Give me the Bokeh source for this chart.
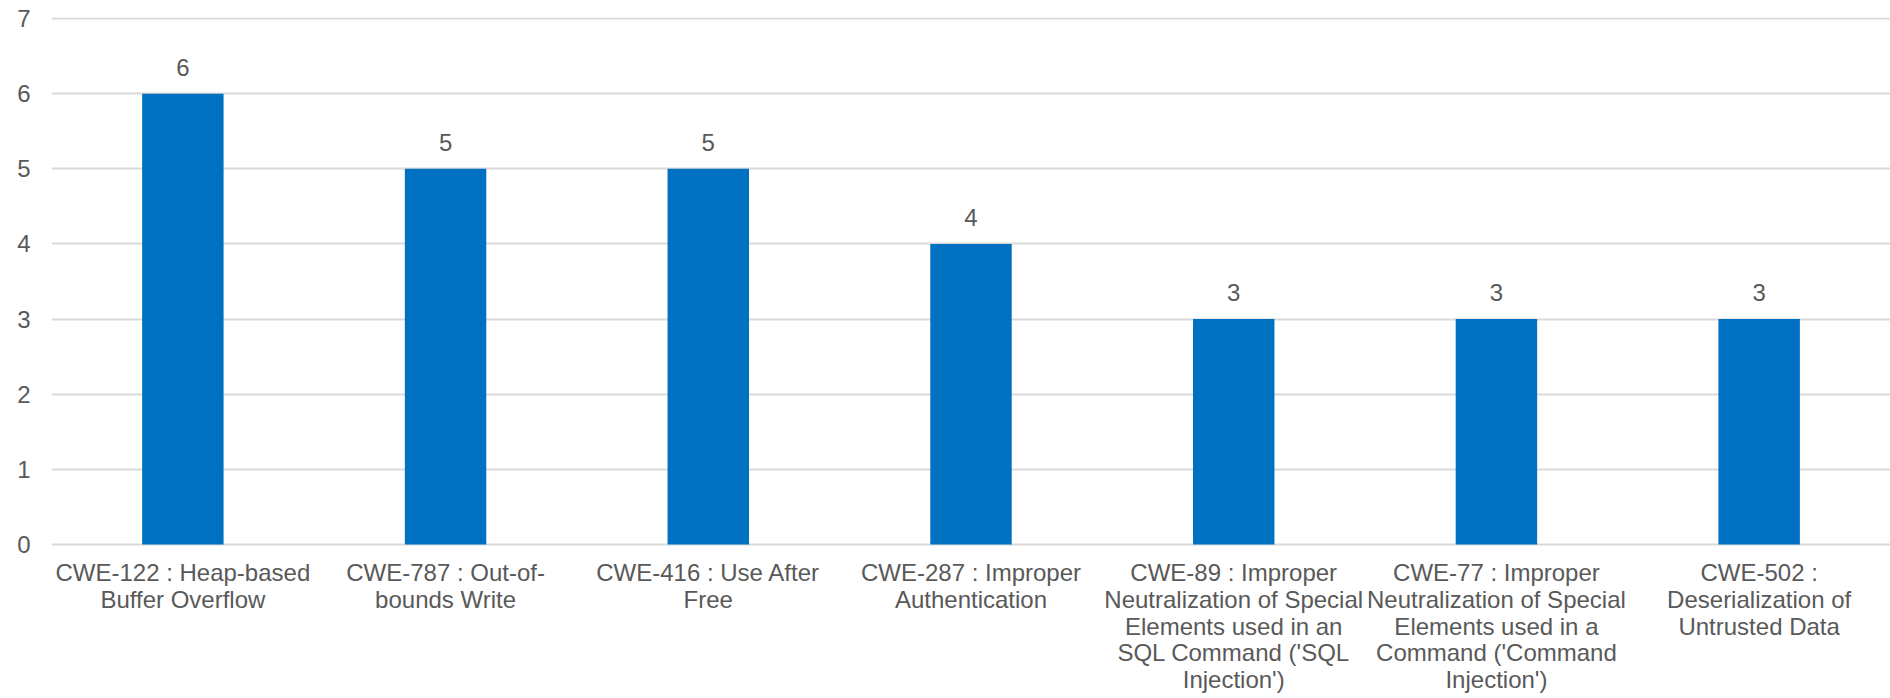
from bokeh.plotting import figure
from bokeh.layouts import column
from bokeh.models import ColumnDataSource, LabelSet, SingleIntervalTicker
from bokeh.core.properties import value
from bokeh.embed import file_html
from bokeh.resources import INLINE

# Weakness categories (wrapped into lines) and their counts
categories = [
    "CWE-122 : Heap-based\nBuffer Overflow",
    "CWE-787 : Out-of-\nbounds Write",
    "CWE-416 : Use After\nFree",
    "CWE-287 : Improper\nAuthentication",
    "CWE-89 : Improper\nNeutralization of Special\nElements used in an\nSQL Command ('SQL\nInjection')",
    "CWE-77 : Improper\nNeutralization of Special\nElements used in a\nCommand ('Command\nInjection')",
    "CWE-502 :\nDeserialization of\nUntrusted Data",
]
counts = [6, 5, 5, 4, 3, 3, 3]

FONT = "Liberation Sans"
FONT_SIZE = "24px"
TEXT_COLOR = "#595959"
GRID_COLOR = "#d9d9d9"
BAR_COLOR = "#0070C0"

W = 1890
CHART_H = 560
LABEL_H = 138
FIRST_BASELINE = 12
LINE_STEP = 26.8

source = ColumnDataSource(dict(cat=categories, n=counts, lbl=[str(v) for v in counts]))

# --- bar chart -------------------------------------------------------------
p = figure(
    x_range=categories,
    y_range=(-0.027, 7.014),
    width=W,
    height=CHART_H,
    output_backend="svg",
    toolbar_location=None,
    min_border_left=51,
    min_border_right=0,
    min_border_top=17,
    min_border_bottom=14,
)
p.outline_line_color = None
p.background_fill_color = "white"
p.border_fill_color = "white"

p.vbar(x="cat", top="n", width=0.31, source=source,
       fill_color=BAR_COLOR, line_color=None)

p.add_layout(LabelSet(x="cat", y="n", text="lbl", source=source,
                      text_align="center", text_baseline="alphabetic", y_offset=18,
                      text_font=value(FONT), text_font_size=value(FONT_SIZE),
                      text_color=TEXT_COLOR))

p.xgrid.grid_line_color = None
p.ygrid.grid_line_color = GRID_COLOR
p.ygrid.grid_line_width = 2
p.xaxis.visible = False

p.yaxis.ticker = SingleIntervalTicker(interval=1)
p.yaxis.axis_line_color = None
p.yaxis.major_tick_line_color = None
p.yaxis.minor_tick_line_color = None
p.yaxis.major_label_text_font = FONT
p.yaxis.major_label_text_font_size = FONT_SIZE
p.yaxis.major_label_text_color = TEXT_COLOR
p.yaxis.major_label_standoff = 15

# --- wrapped category names under the bars ----------------------------------
line_x, line_y, line_txt = [], [], []
for cat in categories:
    for i, part in enumerate(cat.split("\n")):
        line_x.append(cat)
        line_y.append(-(FIRST_BASELINE + i * LINE_STEP))
        line_txt.append(part)
cat_lines = ColumnDataSource(dict(x=line_x, y=line_y, txt=line_txt))

q = figure(
    x_range=p.x_range,
    y_range=(-LABEL_H, 0),
    width=W,
    height=LABEL_H,
    output_backend="svg",
    toolbar_location=None,
    min_border_left=51,
    min_border_right=0,
    min_border_top=0,
    min_border_bottom=0,
)
q.outline_line_color = None
q.border_fill_color = "white"
q.axis.visible = False
q.grid.visible = False
q.text(x="x", y="y", text="txt", source=cat_lines,
       text_align="center", text_baseline="alphabetic",
       text_font=value(FONT), text_font_size=value(FONT_SIZE),
       text_color=TEXT_COLOR)

layout = column(p, q, spacing=0)
open("out.html", "w").write(file_html(layout, INLINE))
